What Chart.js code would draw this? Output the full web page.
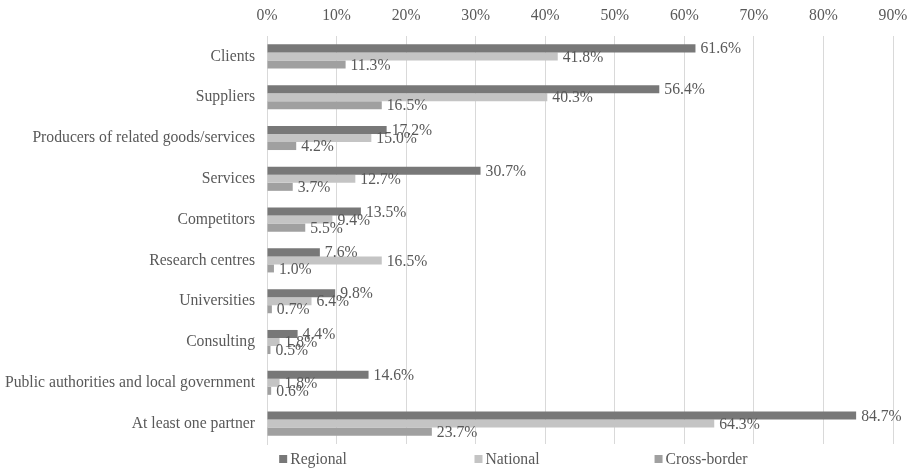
<!DOCTYPE html>
<html>
<head>
<meta charset="utf-8">
<script src="https://cdn.jsdelivr.net/npm/chart.js@4"></script>
<style>
  html, body { margin: 0; padding: 0; background: #fff; }
  #wrap { width: 912px; height: 469px; position: relative; }
</style>
</head>
<body>
<div id="wrap"><canvas id="partners-chart"></canvas></div>
<script>
const categories = [
  "Clients",
  "Suppliers",
  "Producers of related goods/services",
  "Services",
  "Competitors",
  "Research centres",
  "Universities",
  "Consulting",
  "Public authorities and local government",
  "At least one partner"
];
const regional = [61.6, 56.4, 17.2, 30.7, 13.5, 7.6, 9.8, 4.4, 14.6, 84.7];
const national = [41.8, 40.3, 15.0, 12.7, 9.4, 16.5, 6.4, 1.8, 1.8, 64.3];
const crossBorder = [11.3, 16.5, 4.2, 3.7, 5.5, 1.0, 0.7, 0.5, 0.6, 23.7];
const seriesNames = ["Regional", "National", "Cross-border"];
const seriesColors = ["#787878", "#c4c4c4", "#a0a0a0"];

const FONT = "'Liberation Serif', 'Times New Roman', serif";
const FONT_SIZE = 15.7;
const TEXT = "#595959";

// value labels just past the end of each bar
const valueLabels = {
  id: "valueLabels",
  afterDatasetsDraw(chart) {
    const ctx = chart.ctx;
    ctx.save();
    ctx.font = FONT_SIZE + "px " + FONT;
    ctx.fillStyle = TEXT;
    ctx.textAlign = "left";
    ctx.textBaseline = "middle";
    chart.data.datasets.forEach((ds, i) => {
      chart.getDatasetMeta(i).data.forEach((bar, j) => {
        ctx.fillText(ds.data[j].toFixed(1) + "%", bar.x + 5, bar.y + 1);
      });
    });
    ctx.restore();
  }
};

// legend row under the plot, items spread out evenly
const bottomLegend = {
  id: "bottomLegend",
  afterDraw(chart) {
    const ctx = chart.ctx;
    const y = chart.chartArea.bottom + 15;
    const step = 194;
    const mid = 507;
    ctx.save();
    ctx.font = FONT_SIZE + "px " + FONT;
    ctx.textBaseline = "middle";
    ctx.textAlign = "left";
    chart.data.datasets.forEach((ds, i) => {
      const w = 11 + ctx.measureText(ds.label).width;
      const cx = mid + (i - 1) * step;
      const x = cx - w / 2;
      ctx.fillStyle = ds.backgroundColor;
      ctx.fillRect(x, y - 4, 8, 8);
      ctx.fillStyle = TEXT;
      ctx.fillText(ds.label, x + 11, y + 1);
    });
    ctx.restore();
  }
};

const ctx = document.getElementById("partners-chart").getContext("2d");
new Chart(ctx, {
  type: "bar",
  data: {
    labels: categories,
    datasets: [regional, national, crossBorder].map((values, i) => ({
      label: seriesNames[i],
      data: values,
      backgroundColor: seriesColors[i],
      borderWidth: 0,
      barPercentage: 1.0,
      categoryPercentage: 0.59
    }))
  },
  options: {
    indexAxis: "y",
    responsive: true,
    maintainAspectRatio: false,
    animation: false,
    layout: { padding: { top: 0, right: 19, bottom: 25, left: 0 } },
    plugins: {
      legend: { display: false },
      tooltip: { enabled: false }
    },
    scales: {
      x: {
        position: "top",
        min: 0,
        max: 90,
        ticks: {
          stepSize: 10,
          color: TEXT,
          font: { family: FONT, size: FONT_SIZE },
          padding: 11,
          callback: (v) => v + "%"
        },
        grid: { color: "#d9d9d9", drawTicks: false },
        border: { display: false },
        afterFit: (scale) => {
          scale.height = 36;
          scale.paddingLeft = 0;
          scale.paddingRight = 0;
        }
      },
      y: {
        ticks: {
          color: TEXT,
          font: { family: FONT, size: FONT_SIZE },
          padding: 12
        },
        grid: { display: false, drawTicks: false },
        border: { color: "#d9d9d9" },
        afterFit: (scale) => {
          scale.width = 267;
          scale.paddingTop = 0;
          scale.paddingBottom = 0;
        }
      }
    }
  },
  plugins: [valueLabels, bottomLegend]
});
</script>
</body>
</html>
